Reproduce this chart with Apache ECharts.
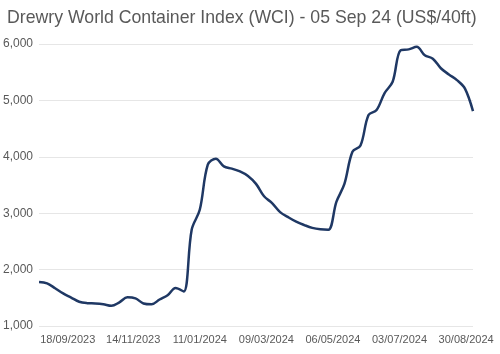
<!DOCTYPE html>
<html>
<head>
<meta charset="utf-8">
<script src="https://cdn.jsdelivr.net/npm/echarts@6/dist/echarts.min.js"></script>
<style>
  html, body { margin: 0; padding: 0; background: #fff; }
  #main { width: 500px; height: 354px; }
</style>
</head>
<body>
<div id="main"></div>
<script>
// weekly WCI composite, US$/40ft
const weeks = [
  '2023-08-24', '2023-08-31', '2023-09-07', '2023-09-14', '2023-09-21', '2023-09-28',
  '2023-10-05', '2023-10-12', '2023-10-19', '2023-10-26', '2023-11-02', '2023-11-09',
  '2023-11-16', '2023-11-23', '2023-11-30', '2023-12-07', '2023-12-14', '2023-12-21',
  '2023-12-28', '2024-01-04', '2024-01-11', '2024-01-18', '2024-01-25', '2024-02-01',
  '2024-02-08', '2024-02-15', '2024-02-22', '2024-02-29', '2024-03-07', '2024-03-14',
  '2024-03-21', '2024-03-28', '2024-04-04', '2024-04-11', '2024-04-18', '2024-04-25',
  '2024-05-02', '2024-05-09', '2024-05-16', '2024-05-23', '2024-05-30', '2024-06-06',
  '2024-06-13', '2024-06-20', '2024-06-27', '2024-07-04', '2024-07-11', '2024-07-18',
  '2024-07-25', '2024-08-01', '2024-08-08', '2024-08-15', '2024-08-22', '2024-08-29',
  '2024-09-05'
]
const wci = [
  1780, 1755, 1670, 1578, 1505, 1430,
  1405, 1400, 1385, 1358, 1420, 1510,
  1490, 1400, 1385, 1470, 1545, 1675,
  1612, 2710, 3060, 3860, 3965, 3830,
  3790, 3740, 3660, 3520, 3300, 3180,
  3020, 2930, 2850, 2790, 2740, 2715,
  2708, 3200, 3520, 4090, 4200, 4740,
  4830, 5130, 5330, 5890, 5905, 5950,
  5800, 5740, 5570, 5460, 5360, 5210,
  4810
]
const tickDates = ['2023-09-18', '2023-11-14', '2024-01-11', '2024-03-09', '2024-05-06', '2024-07-03', '2024-08-30']

const toTime = s => {
  const p = s.split('-').map(Number)
  return Date.UTC(p[0], p[1] - 1, p[2])
}
const pad = n => (n < 10 ? '0' : '') + n

const myChart = echarts.init(document.getElementById('main'))
const option = {
  animation: false,
  title: {
    text: 'Drewry World Container Index (WCI) - 05 Sep 24 (US$/40ft)',
    left: 2,
    top: 4,
    textStyle: {
      fontFamily: 'Liberation Sans',
      fontSize: 17.7,
      fontWeight: 'normal',
      color: '#595959'
    }
  },
  grid: {
    left: 39,
    right: 27,
    top: 44,
    bottom: 28
  },
  xAxis: {
    type: 'value',
    min: toTime(weeks[0]),
    max: toTime(weeks[weeks.length - 1]),
    axisLine: { show: false },
    axisTick: { show: false },
    splitLine: { show: false },
    axisLabel: {
      customValues: tickDates.map(toTime),
      margin: 8,
      fontFamily: 'Liberation Sans',
      fontSize: 11,
      color: '#595959',
      formatter: val => {
        const d = new Date(val)
        return pad(d.getUTCDate()) + '/' + pad(d.getUTCMonth() + 1) + '/' + d.getUTCFullYear()
      }
    }
  },
  yAxis: {
    type: 'value',
    min: 1000,
    max: 6000,
    interval: 1000,
    axisLine: { show: false },
    axisTick: { show: false },
    axisLabel: {
      margin: 6,
      fontFamily: 'Liberation Sans',
      fontSize: 12,
      color: '#595959',
      formatter: v => v.toLocaleString('en-US')
    },
    splitLine: {
      lineStyle: { color: '#e6e6e6', width: 1 }
    }
  },
  series: [
    {
      type: 'line',
      data: weeks.map((w, i) => [toTime(w), wci[i]]),
      smooth: 0.35,
      showSymbol: false,
      lineStyle: { color: '#1f3864', width: 2.5 }
    }
  ]
}
myChart.setOption(option)
</script>
</body>
</html>
